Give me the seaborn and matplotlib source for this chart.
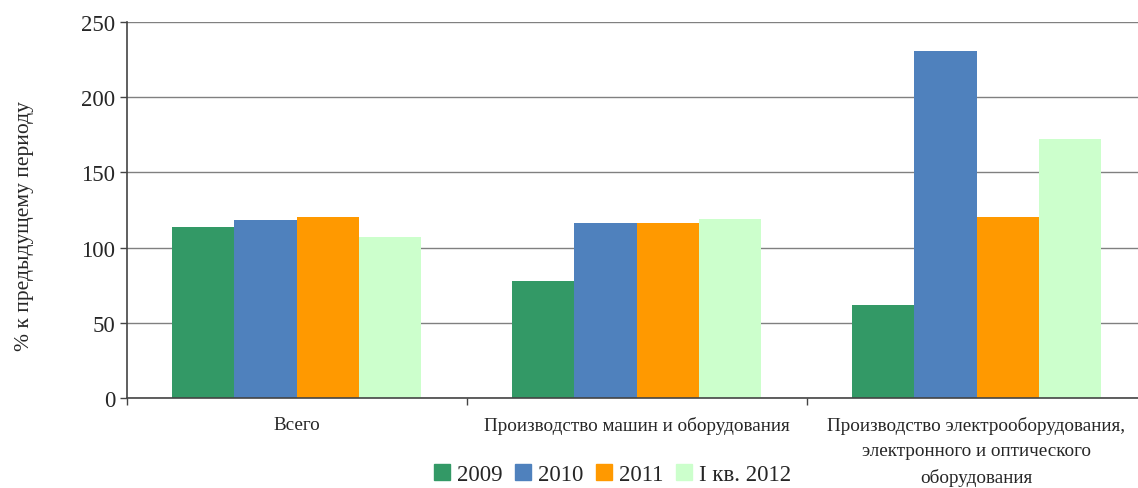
import numpy as np
import pandas as pd
import seaborn as sns
from matplotlib import pyplot as plt

sns.set_theme(style="white")
plt.rcParams['font.family'] = ['Liberation Serif', 'DejaVu Serif']

# данные
categories = ["Всего",
              "Производство машин и оборудования",
              "Производство электрооборудования,\nэлектронного и оптического\nоборудования"]
series = ["2009", "2010", "2011", "I кв. 2012"]
v2009 = [113.7, 77.8, 61.8]
v2010 = [118.4, 116.4, 230.7]
v2011 = [120.3, 116.4, 120.3]
vq2012 = [107.0, 119.0, 172.2]
colors = ["#339966", "#4F81BD", "#FF9900", "#CCFFCC"]

df = pd.DataFrame({
    "cat": categories * 4,
    "year": [s for s in series for _ in categories],
    "val": v2009 + v2010 + v2011 + vq2012,
})

fig = plt.figure(figsize=(11.38, 4.89), dpi=100)
# ось выходит чуть за правый край картинки, как в оригинале
ax = fig.add_axes([126.5 / 1138, 1 - 399 / 489, 1020 / 1138, (399 - 23) / 489])

sns.barplot(data=df, x="cat", y="val", hue="year", order=categories,
            hue_order=series, palette=colors, width=0.73, saturation=1,
            linewidth=0, ax=ax)

ax.set_ylim(0, 250)
ax.set_xlim(-0.5, 2.5)
ax.set_yticks(np.arange(0, 251, 50))
ax.yaxis.grid(True, color="#808080", linewidth=1)
ax.set_axisbelow(True)
ax.set_xlabel("")
ax.set_ylabel("% к предыдущему периоду", fontsize=15.5)
ax.yaxis.set_label_coords(-0.0905, 0.46)

ax.tick_params(axis="y", labelsize=16.5, length=5, width=1, color="#444444",
               direction="out", left=True, pad=3)
ax.tick_params(axis="x", which="major", labelsize=13.8, length=0, pad=13)
ax.set_xticks([-0.5, 0.5, 1.5, 2.5], minor=True)
ax.tick_params(axis="x", which="minor", length=5, width=1, color="#444444",
               direction="out", bottom=True)
for lab in ax.get_xticklabels():
    lab.set_linespacing(1.62)
    lab.set_verticalalignment("top")

for s in ["top", "right"]:
    ax.spines[s].set_visible(False)
for s in ["left", "bottom"]:
    ax.spines[s].set_color("#444444")
    ax.spines[s].set_linewidth(1.2)

ax.get_legend().remove()
handles = [plt.Rectangle((0, 0), 1, 1, color=c) for c in colors]
fig.legend(handles, series, loc="lower center", bbox_to_anchor=(0.538, -0.036),
           ncol=4, frameon=False, fontsize=16.5, handlelength=0.7,
           handleheight=0.7, handletextpad=0.3, columnspacing=0.55)

fig.savefig("out.png", dpi=100)
